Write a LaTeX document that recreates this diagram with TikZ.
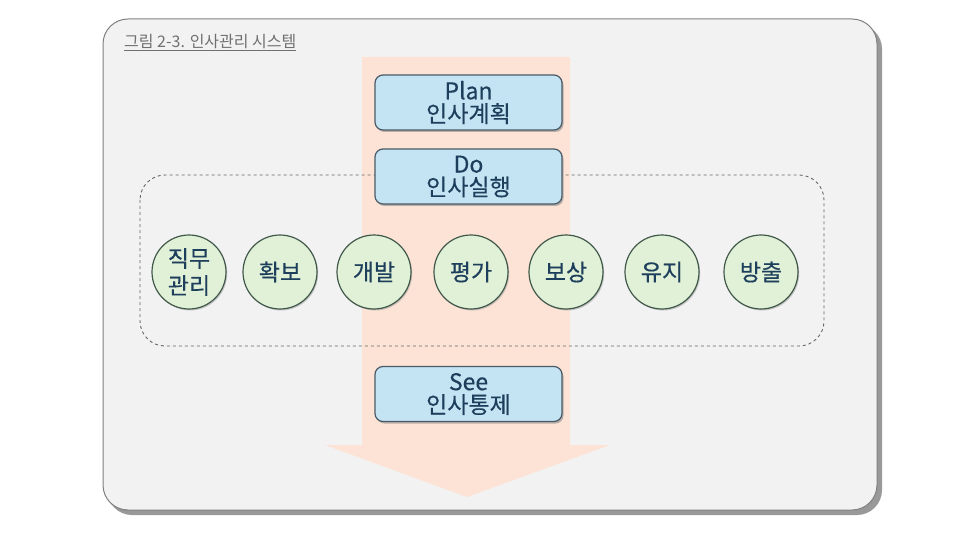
\documentclass[tikz,border=0pt]{standalone}
\usepackage{fontspec}
\setmainfont{Noto Sans CJK KR}
\newfontfamily\medfont[FakeBold=0.4]{Noto Sans CJK KR}
\usetikzlibrary{shadows}
\definecolor{panelfill}{HTML}{F2F2F2}
\definecolor{panelline}{HTML}{808080}
\definecolor{arrowfill}{HTML}{FCE3D5}
\definecolor{boxfill}{HTML}{C4E4F4}
\definecolor{boxline}{HTML}{4A5A66}
\definecolor{circfill}{HTML}{E1F1D8}
\definecolor{circline}{HTML}{41594A}
\definecolor{txt}{HTML}{1E3F5C}
\definecolor{titletxt}{HTML}{707070}
\tikzset{
  phase/.style={draw=boxline, line width=1.2pt, fill=boxfill, rounded corners=8pt,
    minimum width=187pt, minimum height=55pt, inner sep=0pt, align=center,
    text=txt, font=\medfont\fontsize{23}{24}\selectfont,
    drop shadow={shadow xshift=1.5pt, shadow yshift=-2pt, fill=black!45, opacity=0.6}},
  func/.style={circle, draw=circline, line width=1.2pt, fill=circfill, minimum size=74pt,
    inner sep=0pt, align=center, text=txt, font=\medfont\fontsize{23}{24}\selectfont,
    drop shadow={shadow xshift=1.2pt, shadow yshift=-1.5pt, fill=black!40, opacity=0.5}}
}
\begin{document}
\begin{tikzpicture}[x=1pt,y=-1pt]
\useasboundingbox (0,0) rectangle (966,540);
\fill[white] (0,0) rectangle (966,540);
% panel shadow
\fill[black!40, rounded corners=25pt] (107,24) rectangle (882,515);
\fill[panelfill, draw=panelline, line width=1pt, rounded corners=25pt] (103,19) rectangle (877,510);
% title
\node[anchor=west, text=titletxt, font=\fontsize{16}{18}\selectfont, inner sep=0pt] (title) at (124,43)
  {\underline{그림 2-3. 인사관리 시스템}};
% big arrow
\fill[arrowfill] (362,57) -- (570,57) -- (570,445) -- (610,445) -- (467,497) -- (325,445) -- (362,445) -- cycle;
% dashed group
\draw[dashed, draw=black!60, line width=0.9pt, rounded corners=25pt] (140,175) rectangle (824,346);
% phases
\node[phase] (plan) at (468.5,102.5) {Plan\\[-1pt]인사계획};
\node[phase] (do) at (468.5,176.5) {Do\\[-1pt]인사실행};
\node[phase] (see) at (468.5,394) {See\\[-1pt]인사통제};
% functions
\node[func] (f1) at (189,272) {직무\\[3pt]관리};
\node[func] (f2) at (280,272) {확보};
\node[func] (f3) at (374,272) {개발};
\node[func] (f4) at (471,272) {평가};
\node[func] (f5) at (566,272) {보상};
\node[func] (f6) at (662,272) {유지};
\node[func] (f7) at (761,272) {방출};
\end{tikzpicture}
\end{document}
